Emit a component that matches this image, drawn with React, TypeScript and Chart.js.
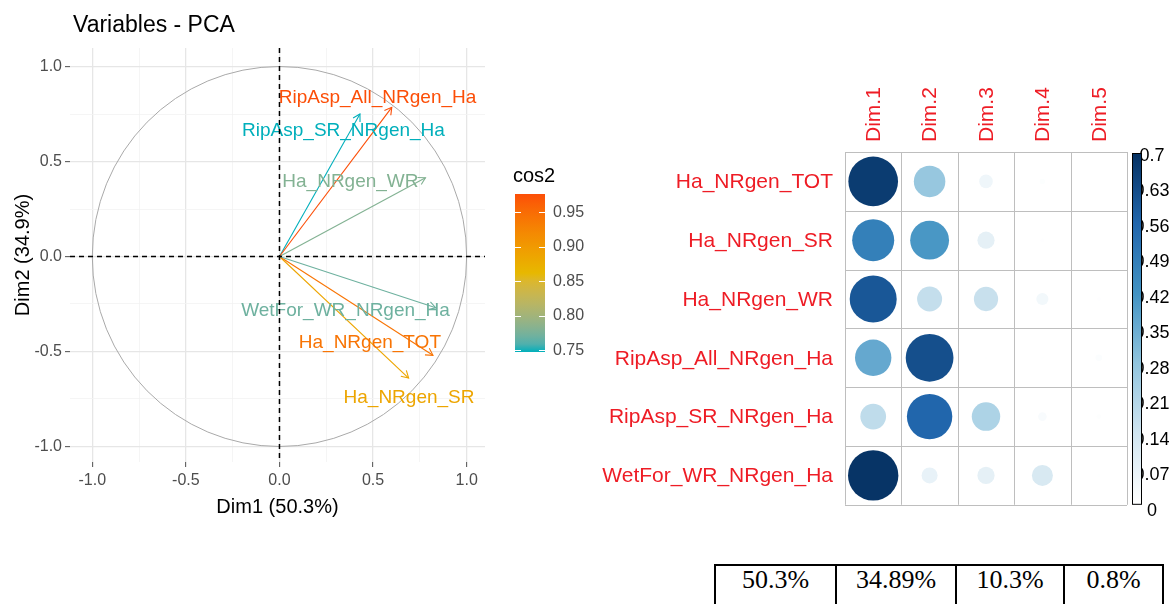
import React, { useEffect, useRef } from "react";
import { Chart, registerables } from "chart.js";

Chart.register(...registerables);

// ---------- PCA: variable coordinates on the first two dimensions ----------
const variableNames = [
  "RipAsp_All_NRgen_Ha",
  "RipAsp_SR_NRgen_Ha",
  "Ha_NRgen_WR",
  "WetFor_WR_NRgen_Ha",
  "Ha_NRgen_TOT",
  "Ha_NRgen_SR",
];
const dim1Coords = [0.6, 0.43, 0.78, 0.835, 0.82, 0.69];
const dim2Coords = [0.785, 0.75, 0.415, -0.27, -0.52, -0.64];

// explained variance of each dimension (%)
const explainedVariance = [50.3, 34.89, 10.3, 0.8];

// axis grid (major every 0.5, minor in between) and cos2 legend ticks
const pcaGridValues = [-1, -0.75, -0.5, -0.25, 0, 0.25, 0.5, 0.75, 1];
const cos2LegendTicks = [0.75, 0.8, 0.85, 0.9, 0.95];

// ---------- cos2 of each variable on Dim.1 .. Dim.5 ----------
const corrRows = [
  "Ha_NRgen_TOT",
  "Ha_NRgen_SR",
  "Ha_NRgen_WR",
  "RipAsp_All_NRgen_Ha",
  "RipAsp_SR_NRgen_Ha",
  "WetFor_WR_NRgen_Ha",
];
const corrDims = ["Dim.1", "Dim.2", "Dim.3", "Dim.4", "Dim.5"];
const cos2Dim1 = [0.67, 0.48, 0.6, 0.36, 0.18, 0.69];
const cos2Dim2 = [0.27, 0.41, 0.17, 0.62, 0.56, 0.07];
const cos2Dim3 = [0.05, 0.08, 0.16, 0.002, 0.22, 0.08];
const cos2Dim4 = [0.008, 0.004, 0.04, 0.002, 0.02, 0.12];
const cos2Dim5 = [0.001, 0.001, 0.004, 0.012, 0.006, 0.002];
const corrLegendTicks = [0, 0.07, 0.14, 0.21, 0.28, 0.35, 0.42, 0.49, 0.56, 0.63, 0.7];

// ---------- layout / style ----------
const SANS = "'Liberation Sans', Arial, Helvetica, sans-serif";
const SERIF = "'Liberation Serif', 'Times New Roman', Times, serif";
// repelled text label centres, in data units
const LABEL_ANCHORS: [number, number][] = [
  [0.524, 0.839],
  [0.342, 0.666],
  [0.379, 0.397],
  [0.353, -0.282],
  [0.483, -0.45],
  [0.692, -0.739],
];
const GRADIENT_STOPS = ["#00AFBB", "#E7B800", "#FC4E07"];
const BLUES = ["#FFFFFF", "#D1E5F0", "#92C5DE", "#4393C3", "#2166AC", "#053061"];

// corrplot canvas and plot-area padding
const CORR_W = 582;
const CORR_H = 470;
const CORR_PAD = { left: 255, top: 92, right: 45, bottom: 17 };

// ---------- colour helpers ----------
function hexToRgb(h: string): number[] {
  const n = parseInt(h.slice(1), 16);
  return [(n >> 16) & 255, (n >> 8) & 255, n & 255];
}
function toLin(c: number) {
  c /= 255;
  return c <= 0.04045 ? c / 12.92 : Math.pow((c + 0.055) / 1.055, 2.4);
}
function fromLin(c: number) {
  const v = c <= 0.0031308 ? 12.92 * c : 1.055 * Math.pow(c, 1 / 2.4) - 0.055;
  return Math.round(Math.max(0, Math.min(1, v)) * 255);
}
function rgbToLab(rgb: number[]): number[] {
  const [R, G, B] = rgb.map(toLin);
  const X = (0.4124 * R + 0.3576 * G + 0.1805 * B) / 0.95047;
  const Y = 0.2126 * R + 0.7152 * G + 0.0722 * B;
  const Z = (0.0193 * R + 0.1192 * G + 0.9505 * B) / 1.08883;
  const f = (t: number) => (t > 0.008856 ? Math.cbrt(t) : 7.787 * t + 16 / 116);
  const fx = f(X), fy = f(Y), fz = f(Z);
  return [116 * fy - 16, 500 * (fx - fy), 200 * (fy - fz)];
}
function labToRgb(lab: number[]): number[] {
  const [L, a, b] = lab;
  const fy = (L + 16) / 116, fx = fy + a / 500, fz = fy - b / 200;
  const inv = (t: number) => (t * t * t > 0.008856 ? t * t * t : (t - 16 / 116) / 7.787);
  const X = inv(fx) * 0.95047, Y = inv(fy), Z = inv(fz) * 1.08883;
  const R = 3.2406 * X - 1.5372 * Y - 0.4986 * Z;
  const G = -0.9689 * X + 1.8758 * Y + 0.0415 * Z;
  const Bl = 0.0557 * X - 0.204 * Y + 1.057 * Z;
  return [fromLin(R), fromLin(G), fromLin(Bl)];
}
const gradientLab = GRADIENT_STOPS.map((h) => rgbToLab(hexToRgb(h)));
function cos2Color(t: number): string {
  const u = Math.max(0, Math.min(1, t)) * (gradientLab.length - 1);
  const i = Math.min(gradientLab.length - 2, Math.floor(u));
  const f = u - i;
  const lab = gradientLab[i].map((v, k) => v + (gradientLab[i + 1][k] - v) * f);
  const [r, g, b] = labToRgb(lab);
  return `rgb(${r},${g},${b})`;
}
function bluesColor(v: number, max: number): string {
  const u = Math.max(0, Math.min(1, v / max)) * (BLUES.length - 1);
  const i = Math.min(BLUES.length - 2, Math.floor(u));
  const f = u - i;
  const a = hexToRgb(BLUES[i]), b = hexToRgb(BLUES[i + 1]);
  const c = a.map((x, k) => Math.round(x + (b[k] - x) * f));
  return `rgb(${c[0]},${c[1]},${c[2]})`;
}

// cos2 of each arrow = squared length on the Dim1/Dim2 plane
const cos2Values = dim1Coords.map((x, i) => x * x + dim2Coords[i] * dim2Coords[i]);
const cos2Min = Math.min(...cos2Values);
const cos2Max = Math.max(...cos2Values);
const arrowColors = cos2Values.map((c) => cos2Color((c - cos2Min) / (cos2Max - cos2Min)));

const isMajor = (v: number) => Math.abs(v * 2 - Math.round(v * 2)) < 1e-9;

// ---------- PCA correlation circle ----------
const pcaDecor = {
  id: "pcaDecor",
  beforeDatasetsDraw(chart: any) {
    const { ctx, scales } = chart;
    const x = scales.x, y = scales.y;
    const cx = x.getPixelForValue(0), cy = y.getPixelForValue(0);
    const rx = x.getPixelForValue(1) - cx, ry = cy - y.getPixelForValue(1);
    ctx.save();
    ctx.strokeStyle = "#A9A9A9";
    ctx.lineWidth = 1;
    ctx.beginPath();
    ctx.ellipse(cx, cy, rx, ry, 0, 0, Math.PI * 2);
    ctx.stroke();
    ctx.restore();
  },
  afterDatasetsDraw(chart: any) {
    const { ctx, scales, chartArea: a } = chart;
    const x = scales.x, y = scales.y;
    const cx = x.getPixelForValue(0), cy = y.getPixelForValue(0);
    ctx.save();
    // open arrow heads
    variableNames.forEach((_, i) => {
      const tx = x.getPixelForValue(dim1Coords[i]);
      const ty = y.getPixelForValue(dim2Coords[i]);
      const ang = Math.atan2(ty - cy, tx - cx);
      const len = 8, spread = Math.PI / 6;
      ctx.strokeStyle = arrowColors[i];
      ctx.lineWidth = 1.1;
      ctx.beginPath();
      ctx.moveTo(tx - len * Math.cos(ang - spread), ty - len * Math.sin(ang - spread));
      ctx.lineTo(tx, ty);
      ctx.lineTo(tx - len * Math.cos(ang + spread), ty - len * Math.sin(ang + spread));
      ctx.stroke();
    });
    // variable labels
    ctx.font = `19px ${SANS}`;
    ctx.textAlign = "center";
    ctx.textBaseline = "middle";
    variableNames.forEach((name, i) => {
      ctx.fillStyle = arrowColors[i];
      ctx.fillText(name, x.getPixelForValue(LABEL_ANCHORS[i][0]), y.getPixelForValue(LABEL_ANCHORS[i][1]) + 1);
    });
    // dashed reference lines through the origin
    ctx.setLineDash([5, 4]);
    ctx.strokeStyle = "#000";
    ctx.lineWidth = 1.5;
    ctx.beginPath();
    ctx.moveTo(a.left, cy);
    ctx.lineTo(a.right, cy);
    ctx.moveTo(cx, a.top);
    ctx.lineTo(cx, a.bottom);
    ctx.stroke();
    ctx.restore();
  },
  afterDraw(chart: any) {
    const { ctx, chartArea: a } = chart;
    ctx.save();
    // title
    ctx.fillStyle = "#000";
    ctx.font = `23px ${SANS}`;
    ctx.textAlign = "left";
    ctx.textBaseline = "middle";
    ctx.fillText("Variables - PCA", a.left + 3, 26);
    // axis titles
    ctx.font = `20px ${SANS}`;
    ctx.textAlign = "center";
    ctx.fillText(`Dim1 (${explainedVariance[0].toFixed(1)}%)`, (a.left + a.right) / 2, 507);
    ctx.save();
    ctx.translate(23, (a.top + a.bottom) / 2);
    ctx.rotate(-Math.PI / 2);
    ctx.fillText(`Dim2 (${explainedVariance[1].toFixed(1)}%)`, 0, 0);
    ctx.restore();

    // cos2 colour bar legend
    const barL = a.right + 30, barR = barL + 30;
    const barT = a.top + 146, barB = a.top + 304;
    ctx.font = `20px ${SANS}`;
    ctx.textAlign = "left";
    ctx.fillStyle = "#000";
    ctx.fillText("cos2", a.right + 28, a.top + 128);
    const grad = ctx.createLinearGradient(0, barB, 0, barT);
    for (let k = 0; k <= 20; k++) grad.addColorStop(k / 20, cos2Color(k / 20));
    ctx.fillStyle = grad;
    ctx.fillRect(barL, barT, barR - barL, barB - barT);
    const vToY = (v: number) => barT + ((cos2Max - v) / (cos2Max - cos2Min)) * (barB - barT);
    ctx.font = `16px ${SANS}`;
    cos2LegendTicks.forEach((v) => {
      const py = vToY(v);
      if (py < barT - 1 || py > barB + 1) return;
      ctx.strokeStyle = "#fff";
      ctx.lineWidth = 1;
      ctx.beginPath();
      ctx.moveTo(barL, Math.round(py) + 0.5);
      ctx.lineTo(barL + 6, Math.round(py) + 0.5);
      ctx.moveTo(barR - 6, Math.round(py) + 0.5);
      ctx.lineTo(barR, Math.round(py) + 0.5);
      ctx.stroke();
      ctx.fillStyle = "#4D4D4D";
      ctx.fillText(v.toFixed(2), barR + 8, py);
    });
    ctx.restore();
  },
};

function PcaCircle() {
  const ref = useRef<HTMLCanvasElement>(null);
  useEffect(() => {
    const gridColor = (c: any) => (isMajor(c.tick?.value ?? 0) ? "#E6E6E6" : "#F2F2F2");
    const gridWidth = (c: any) => (isMajor(c.tick?.value ?? 0) ? 1.3 : 0.8);
    const tickColor = (c: any) => (isMajor(c.tick?.value ?? 0) ? "#4D4D4D" : "rgba(0,0,0,0)");
    const tickLabel = (v: any) => (isMajor(Number(v)) ? Number(v).toFixed(1) : "");
    const chart = new Chart(ref.current as HTMLCanvasElement, {
      type: "scatter",
      data: {
        datasets: variableNames.map((name, i) => ({
          label: name,
          data: [
            { x: 0, y: 0 },
            { x: dim1Coords[i], y: dim2Coords[i] },
          ],
          showLine: true,
          borderColor: arrowColors[i],
          backgroundColor: arrowColors[i],
          borderWidth: 1.1,
          pointRadius: 0,
          fill: false,
        })),
      },
      options: {
        animation: false,
        responsive: false,
        devicePixelRatio: 1,
        events: [],
        layout: { padding: { left: 0, top: 48, right: 105, bottom: 16 } },
        plugins: { legend: { display: false }, tooltip: { enabled: false }, title: { display: false } },
        scales: {
          x: {
            type: "linear",
            min: -1.119,
            max: 1.098,
            afterBuildTicks: (s: any) => {
              s.ticks = pcaGridValues.map((v) => ({ value: v }));
            },
            afterFit: (s: any) => {
              s.height = 62;
            },
            border: { display: false },
            grid: { color: gridColor, lineWidth: gridWidth, tickColor, tickLength: 5, tickWidth: 1 },
            ticks: {
              autoSkip: false,
              maxRotation: 0,
              padding: 4,
              color: "#4D4D4D",
              font: { family: SANS, size: 16 },
              callback: tickLabel,
            },
          },
          y: {
            type: "linear",
            min: -1.0816,
            max: 1.0974,
            afterBuildTicks: (s: any) => {
              s.ticks = pcaGridValues.map((v) => ({ value: v }));
            },
            afterFit: (s: any) => {
              s.width = 70;
            },
            border: { display: false },
            grid: { color: gridColor, lineWidth: gridWidth, tickColor, tickLength: 5, tickWidth: 1 },
            ticks: {
              autoSkip: false,
              padding: 3,
              color: "#4D4D4D",
              font: { family: SANS, size: 16 },
              callback: tickLabel,
            },
          },
        },
      } as any,
      plugins: [pcaDecor],
    });
    return () => chart.destroy();
  }, []);
  return (
    <canvas
      ref={ref}
      width={590}
      height={540}
      style={{ position: "absolute", left: 0, top: 0, width: 590, height: 540 }}
    />
  );
}

// ---------- cos2 corrplot ----------
const cos2ByDim = [cos2Dim1, cos2Dim2, cos2Dim3, cos2Dim4, cos2Dim5];
const corrMax = corrLegendTicks[corrLegendTicks.length - 1];
const corrCells = corrRows.flatMap((_, r) =>
  corrDims.map((__, c) => ({ x: c + 1, y: r + 1, v: cos2ByDim[c][r] }))
);
// circle radius grows with sqrt(cos2); the largest value nearly fills its cell
const corrCellWidth = (CORR_W - CORR_PAD.left - CORR_PAD.right) / corrDims.length;
const corrRadii = corrCells.map((c) => corrCellWidth * 0.45 * Math.sqrt(Math.max(0, c.v) / corrMax));
const corrFills = corrCells.map((c) => bluesColor(c.v, corrMax));

const corrDecor = {
  id: "corrDecor",
  beforeDatasetsDraw(chart: any) {
    const { ctx, chartArea: a, scales } = chart;
    const x = scales.x, y = scales.y;
    ctx.save();
    ctx.strokeStyle = "#BEBEBE";
    ctx.lineWidth = 1;
    ctx.beginPath();
    for (let c = 0; c <= corrDims.length; c++) {
      const px = Math.round(x.getPixelForValue(c + 0.5)) + 0.5;
      ctx.moveTo(px, a.top);
      ctx.lineTo(px, a.bottom);
    }
    for (let r = 0; r <= corrRows.length; r++) {
      const py = Math.round(y.getPixelForValue(r + 0.5)) + 0.5;
      ctx.moveTo(a.left, py);
      ctx.lineTo(a.right, py);
    }
    ctx.stroke();
    ctx.restore();
  },
  afterDraw(chart: any) {
    const { ctx, chartArea: a, scales } = chart;
    const x = scales.x, y = scales.y;
    ctx.save();
    ctx.fillStyle = "#EE1C25";
    ctx.font = `21px ${SANS}`;
    // row labels
    ctx.textAlign = "right";
    ctx.textBaseline = "middle";
    corrRows.forEach((name, r) => ctx.fillText(name, a.left - 12, y.getPixelForValue(r + 1) + 1));
    // column labels, reading upwards
    ctx.textAlign = "left";
    corrDims.forEach((name, c) => {
      ctx.save();
      ctx.translate(x.getPixelForValue(c + 1) + 1, a.top - 10);
      ctx.rotate(-Math.PI / 2);
      ctx.fillText(name, 0, 0);
      ctx.restore();
    });
    // colour bar: labels first, the bar is painted over their leading digit
    const barL = a.right + 5, barR = barL + 10;
    const barT = a.top + 1, barB = a.bottom;
    const labT = a.top + 3, labB = a.bottom + 5;
    ctx.fillStyle = "#000";
    ctx.font = `18px ${SANS}`;
    ctx.textAlign = "center";
    corrLegendTicks.forEach((v) => {
      const py = labB - (v / corrMax) * (labB - labT);
      ctx.fillText(String(v), barR + 10, py + 1);
    });
    const grad = ctx.createLinearGradient(0, barB, 0, barT);
    for (let k = 0; k <= 20; k++) grad.addColorStop(k / 20, bluesColor((k / 20) * corrMax, corrMax));
    ctx.fillStyle = grad;
    ctx.fillRect(barL, barT, barR - barL, barB - barT);
    ctx.strokeStyle = "#000";
    ctx.lineWidth = 1;
    ctx.strokeRect(barL + 0.5, barT + 0.5, barR - barL - 1, barB - barT - 1);
    ctx.restore();
  },
};

function Cos2Corrplot() {
  const ref = useRef<HTMLCanvasElement>(null);
  useEffect(() => {
    const chart = new Chart(ref.current as HTMLCanvasElement, {
      type: "bubble",
      data: {
        datasets: [
          {
            label: "cos2",
            data: corrCells.map((c) => ({ x: c.x, y: c.y })),
            backgroundColor: corrFills,
            borderColor: corrFills,
            borderWidth: 0,
            radius: corrRadii,
            hoverRadius: 0,
          } as any,
        ],
      },
      options: {
        animation: false,
        responsive: false,
        devicePixelRatio: 1,
        events: [],
        layout: { padding: CORR_PAD },
        plugins: { legend: { display: false }, tooltip: { enabled: false } },
        scales: {
          x: { type: "linear", min: 0.5, max: corrDims.length + 0.5, display: false },
          y: { type: "linear", min: 0.5, max: corrRows.length + 0.5, reverse: true, display: false },
        },
      } as any,
      plugins: [corrDecor],
    });
    return () => chart.destroy();
  }, []);
  return (
    <canvas
      ref={ref}
      width={CORR_W}
      height={CORR_H}
      style={{ position: "absolute", left: 590, top: 60, width: CORR_W, height: CORR_H }}
    />
  );
}

// ---------- explained-variance table ----------
function VarianceTable() {
  const widths = [121, 120, 108, 99];
  return (
    <table
      style={{
        position: "absolute",
        left: 714,
        top: 564,
        borderCollapse: "collapse",
        tableLayout: "fixed",
        fontFamily: SERIF,
        fontSize: 26,
        color: "#000",
      }}
    >
      <colgroup>
        {widths.map((w, i) => (
          <col key={i} style={{ width: w }} />
        ))}
      </colgroup>
      <tbody>
        <tr>
          {explainedVariance.map((v, i) => (
            <td
              key={i}
              style={{
                border: "2px solid #000",
                height: 60,
                padding: 0,
                lineHeight: "28px",
                textAlign: "center",
                verticalAlign: "top",
              }}
            >
              {`${v}%`}
            </td>
          ))}
        </tr>
      </tbody>
    </table>
  );
}

export default function App() {
  return (
    <div
      style={{
        position: "fixed",
        left: 0,
        top: 0,
        width: 1172,
        height: 604,
        overflow: "hidden",
        background: "#fff",
      }}
    >
      <PcaCircle />
      <Cos2Corrplot />
      <VarianceTable />
    </div>
  );
}
